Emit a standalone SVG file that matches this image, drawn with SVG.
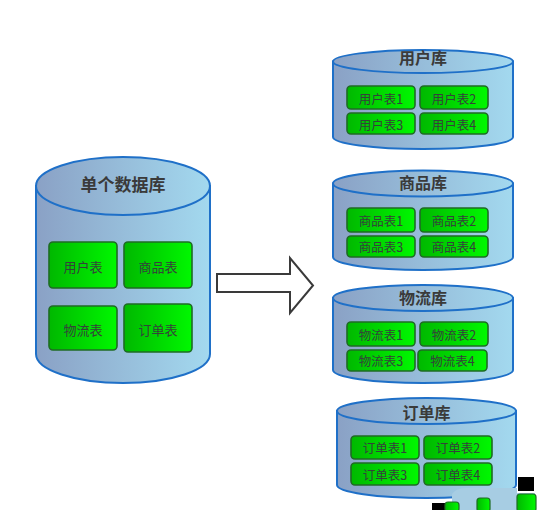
<svg xmlns="http://www.w3.org/2000/svg" width="550" height="525" viewBox="0 0 550 525">
<defs>
<linearGradient id="cyl" x1="0" y1="0" x2="1" y2="0">
<stop offset="0" stop-color="#8aa1c5"/>
<stop offset="1" stop-color="#a3d9ef"/>
</linearGradient>
<linearGradient id="grn" x1="0" y1="0" x2="1" y2="0">
<stop offset="0" stop-color="#00b800"/>
<stop offset="1" stop-color="#00f800"/>
</linearGradient>
<style>
.body{fill:url(#cyl);stroke:#1f70c8;stroke-width:2}
.top{fill:url(#cyl);stroke:#1f70c8;stroke-width:2}
.tb{fill:url(#grn);stroke:#1f6b24;stroke-width:1.6}
.tt{font-family:"Noto Sans CJK SC","Microsoft YaHei",sans-serif;font-size:12.5px;fill:#34423a;text-anchor:middle;dominant-baseline:central}
.tl{font-family:"Noto Sans CJK SC","Microsoft YaHei",sans-serif;font-size:16px;font-weight:bold;fill:#3a3a3a;text-anchor:middle;dominant-baseline:central}
</style>
</defs>
<rect width="550" height="525" fill="#ffffff"/>

<g id="single-db">
<path class="body" d="M36,186 L36,354 A87,29 0 0 0 210,354 L210,186 Z"/>
<ellipse class="top" cx="123" cy="186" rx="87" ry="29"/>
<text class="tl" x="123" y="183" style="font-size:17px">单个数据库</text>
<rect class="tb" x="49" y="242" width="68" height="46" rx="4"/>
<text class="tt" x="83" y="266" style="font-size:13px">用户表</text>
<rect class="tb" x="124" y="242" width="68" height="46" rx="4"/>
<text class="tt" x="158" y="266" style="font-size:13px">商品表</text>
<rect class="tb" x="49" y="306" width="68" height="44" rx="4"/>
<text class="tt" x="83" y="329" style="font-size:13px">物流表</text>
<rect class="tb" x="124" y="304" width="68" height="48" rx="4"/>
<text class="tt" x="158" y="329" style="font-size:13px">订单表</text>
</g>

<g id="connectors">
<path d="M217,274 L290,274 L290,258 L313,285.5 L290,313 L290,292 L217,292 Z" fill="#ffffff" stroke="#3a3a3a" stroke-width="2" stroke-linejoin="miter"/>
</g>

<g id="user-db">
<path class="body" d="M333,61.5 L333,137 A90,12 0 0 0 513,137 L513,61.5 Z"/>
<ellipse class="top" cx="423" cy="61.5" rx="90" ry="11.5"/>
<text class="tl" x="423" y="57">用户库</text>
<rect class="tb" x="347" y="86" width="68" height="23" rx="4"/>
<text class="tt" x="381" y="98">用户表1</text>
<rect class="tb" x="420" y="86" width="68" height="23" rx="4"/>
<text class="tt" x="454" y="98">用户表2</text>
<rect class="tb" x="347" y="113" width="68" height="21" rx="4"/>
<text class="tt" x="381" y="124">用户表3</text>
<rect class="tb" x="420" y="113" width="68" height="21" rx="4"/>
<text class="tt" x="454" y="124">用户表4</text>
</g>

<g id="goods-db">
<path class="body" d="M333,183.5 L333,257 A90,13 0 0 0 513,257 L513,183.5 Z"/>
<ellipse class="top" cx="423" cy="183.5" rx="90" ry="13"/>
<text class="tl" x="423" y="182">商品库</text>
<rect class="tb" x="347" y="208" width="68" height="24" rx="4"/>
<text class="tt" x="381" y="220">商品表1</text>
<rect class="tb" x="420" y="208" width="68" height="24" rx="4"/>
<text class="tt" x="454" y="220">商品表2</text>
<rect class="tb" x="347" y="236" width="68" height="21" rx="4"/>
<text class="tt" x="381" y="246.5">商品表3</text>
<rect class="tb" x="420" y="236" width="68" height="21" rx="4"/>
<text class="tt" x="454" y="246.5">商品表4</text>
</g>

<g id="logistics-db">
<path class="body" d="M333,298 L333,370 A90,13 0 0 0 513,370 L513,298 Z"/>
<ellipse class="top" cx="423" cy="298" rx="90" ry="13"/>
<text class="tl" x="423" y="297">物流库</text>
<rect class="tb" x="347" y="322" width="68" height="24" rx="4"/>
<text class="tt" x="381" y="334">物流表1</text>
<rect class="tb" x="420" y="322" width="68" height="24" rx="4"/>
<text class="tt" x="454" y="334">物流表2</text>
<rect class="tb" x="347" y="350" width="68" height="21" rx="4"/>
<text class="tt" x="381" y="360.5">物流表3</text>
<rect class="tb" x="418" y="350" width="69" height="21" rx="4"/>
<text class="tt" x="452.5" y="360.5">物流表4</text>
</g>

<g id="order-db">
<path class="body" d="M337,411 L337,485 A89.5,13 0 0 0 516,485 L516,411 Z"/>
<ellipse class="top" cx="426.5" cy="411" rx="89.5" ry="13"/>
<text class="tl" x="426.5" y="412">订单库</text>
<rect class="tb" x="351" y="436" width="68" height="23" rx="4"/>
<text class="tt" x="385" y="447.5">订单表1</text>
<rect class="tb" x="424" y="436" width="68" height="23" rx="4"/>
<text class="tt" x="458" y="447.5">订单表2</text>
<rect class="tb" x="351" y="463" width="68" height="22" rx="4"/>
<text class="tt" x="385" y="474">订单表3</text>
<rect class="tb" x="424" y="463" width="68" height="22" rx="4"/>
<text class="tt" x="458" y="474">订单表4</text>
</g>

<g id="artifact">
<rect x="518" y="477" width="16" height="14" fill="#000000"/>
<path d="M452,510 L452,494 Q456,488 466,488 L517,488 L517,493 L535,493 L535,510 Z" fill="#a7cde3"/>
<rect x="432" y="503" width="14" height="7" fill="#000000"/>
<rect x="445" y="502" width="14" height="10" rx="3" fill="url(#grn)" stroke="#1f6b24" stroke-width="1.2"/>
<rect x="477" y="498" width="13" height="14" rx="3" fill="url(#grn)" stroke="#1f6b24" stroke-width="1.2"/>
<rect x="517" y="494" width="19" height="18" rx="3" fill="url(#grn)" stroke="#1f6b24" stroke-width="1.2"/>
<rect x="430" y="510" width="120" height="15" fill="#ffffff"/>
</g>
</svg>
